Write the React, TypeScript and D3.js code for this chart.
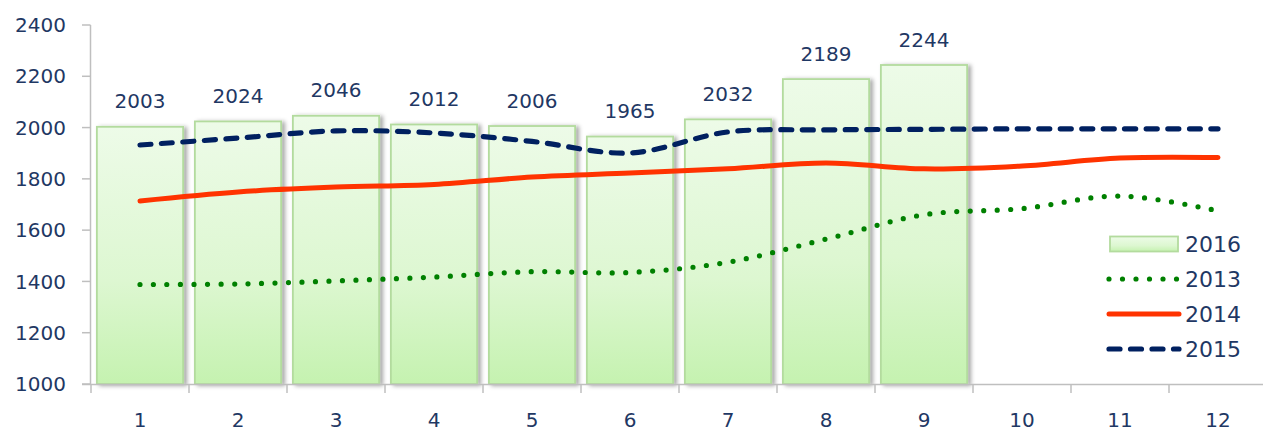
import React from "react";
import * as d3 from "d3";

const months = ["1", "2", "3", "4", "5", "6", "7", "8", "9", "10", "11", "12"];
const values2016 = [2003, 2024, 2046, 2012, 2006, 1965, 2032, 2189, 2244];
const values2013 = [1388, 1390, 1402, 1417, 1438, 1435, 1475, 1565, 1660, 1684, 1733, 1675];
const values2014 = [1714, 1749, 1768, 1778, 1807, 1823, 1839, 1862, 1839, 1850, 1881, 1883];
const values2015 = [1932, 1959, 1987, 1979, 1946, 1901, 1983, 1991, 1993, 1995, 1995, 1995];
const yTicks = [1000, 1200, 1400, 1600, 1800, 2000, 2200, 2400];
const legendLabels = ["2016", "2013", "2014", "2015"];

const W = 1263;
const H = 430;
const FONT = "'DejaVu Sans', Verdana, sans-serif";
const TEXT = "#1F3864";
const AXIS = "#BFBFBF";

export default function App() {
  const x = d3.scaleBand<string>().domain(months).range([91, 91 + 98 * 12]).paddingInner(0.12).paddingOuter(0.06);
  const y = d3.scaleLinear().domain([1000, 2400]).range([384, 25]);
  const cx = (i: number) => (x(months[i]) as number) + x.bandwidth() / 2;
  const line = d3
    .line<number>()
    .x((_, i) => cx(i))
    .y((d) => y(d))
    .curve(d3.curveCatmullRom.alpha(0.5));

  const series = [
    { key: "2013", data: values2013, color: "#008000", width: 5.2, dash: "0 13.5" },
    { key: "2014", data: values2014, color: "#FF3300", width: 5, dash: undefined },
    { key: "2015", data: values2015, color: "#002060", width: 5.2, dash: "11 10.5" },
  ];

  const step = 98;
  const tickXs = d3.range(13).map((i) => 91 + i * step);

  return (
    <svg width={W} height={H} style={{ position: "absolute", left: 0, top: 0, overflow: "visible" }}>
      <defs>
        <linearGradient id="barGrad" x1="0" y1="0" x2="0" y2="1">
          <stop offset="0%" stopColor="#EDFBE8" />
          <stop offset="60%" stopColor="#DDF7D1" />
          <stop offset="100%" stopColor="#C5F2B0" />
        </linearGradient>
        <filter id="shadow" x="-10%" y="-5%" width="130%" height="110%">
          <feDropShadow dx="3" dy="1" stdDeviation="2.2" floodColor="#000" floodOpacity="0.35" />
        </filter>
      </defs>
      <rect x={0} y={0} width={W} height={H} fill="#fff" />

      {/* bars */}
      {values2016.map((v, i) => (
        <rect
          key={i}
          x={x(months[i]) as number}
          y={y(v)}
          width={x.bandwidth()}
          height={y(1000) - y(v)}
          fill="url(#barGrad)"
          stroke="#B3DB9E"
          strokeWidth={1.8}
          filter="url(#shadow)"
        />
      ))}

      {/* axes */}
      <line x1={90.5} x2={90.5} y1={y(2400)} y2={y(1000)} stroke={AXIS} strokeWidth={1.5} />
      {yTicks.map((t) => (
        <g key={t}>
          <line x1={82} x2={90.5} y1={y(t)} y2={y(t)} stroke={AXIS} strokeWidth={1.5} />
          <text x={66} y={y(t)} dy="0.36em" textAnchor="end" fontFamily={FONT} fontSize={20} fill={TEXT}>
            {t}
          </text>
        </g>
      ))}
      <line x1={82} x2={W + 20} y1={384.5} y2={384.5} stroke={AXIS} strokeWidth={1.5} />
      {tickXs.map((t, i) => (
        <line key={i} x1={t} x2={t} y1={384.5} y2={393} stroke={AXIS} strokeWidth={1.5} />
      ))}
      {months.map((m, i) => (
        <text key={m} x={cx(i)} y={427} textAnchor="middle" fontFamily={FONT} fontSize={20} fill={TEXT}>
          {m}
        </text>
      ))}

      {/* lines */}
      {series.map((s) => (
        <path
          key={s.key}
          d={line(s.data) as string}
          fill="none"
          stroke={s.color}
          strokeWidth={s.width}
          strokeDasharray={s.dash}
          strokeLinecap="round"
        />
      ))}

      {/* bar labels */}
      {values2016.map((v, i) => (
        <text key={i} x={cx(i)} y={y(v) - 18.5} textAnchor="middle" fontFamily={FONT} fontSize={20} fill={TEXT}>
          {v}
        </text>
      ))}

      {/* legend */}
      {legendLabels.map((lab, i) => {
        const ly = 244 + i * 35;
        let sample;
        if (i === 0) {
          sample = <rect x={1110} y={ly - 7.5} width={68} height={15} fill="url(#barGrad)" stroke="#B3DB9E" strokeWidth={1.8} />;
        } else {
          const s = series[i - 1];
          sample = (
            <line
              x1={1109}
              x2={1179}
              y1={ly}
              y2={ly}
              stroke={s.color}
              strokeWidth={s.width}
              strokeDasharray={s.dash}
              strokeLinecap="round"
            />
          );
        }
        return (
          <g key={lab}>
            {sample}
            <text x={1185} y={ly} dy="0.36em" fontFamily={FONT} fontSize={22} fill={TEXT}>
              {lab}
            </text>
          </g>
        );
      })}
    </svg>
  );
}
